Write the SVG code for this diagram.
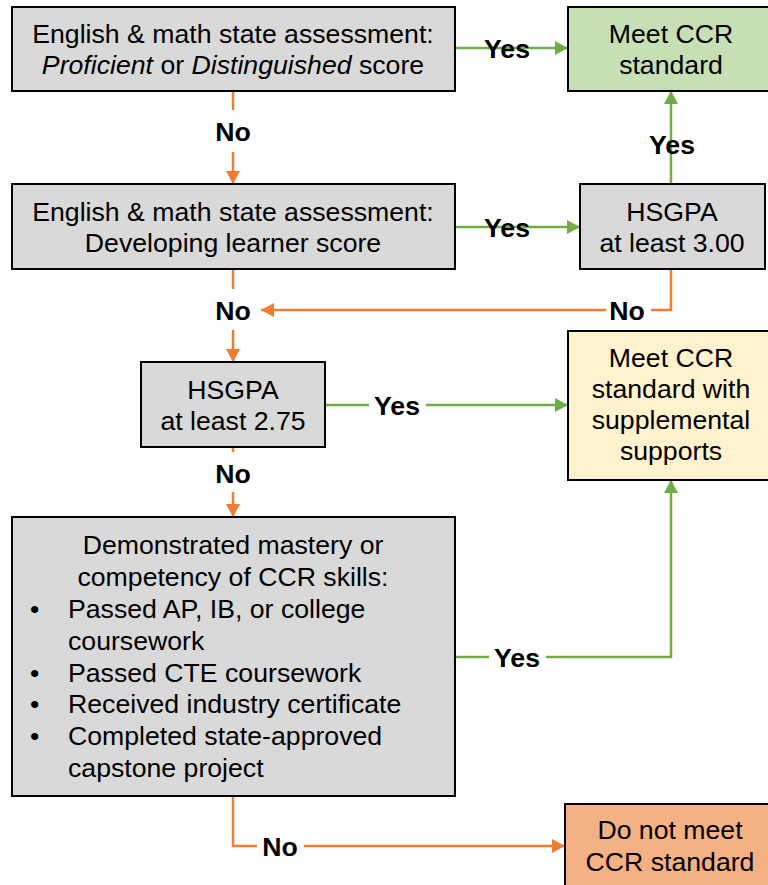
<svg xmlns="http://www.w3.org/2000/svg" width="768" height="885" viewBox="0 0 768 885">
<style>
.box{stroke:#000;stroke-width:2}
.g{fill:#d9d9d9}
.t{font-family:"Liberation Sans",Arial,sans-serif;font-size:26.67px;fill:#000}
.c{text-anchor:middle}
.lbl{font-family:"Liberation Sans",Arial,sans-serif;font-size:26.67px;font-weight:bold;fill:#000;text-anchor:middle}
.gl{stroke:#70ad47;stroke-width:2.5;fill:none}
.ol{stroke:#ed7d31;stroke-width:2.5;fill:none}
</style>
<defs>
<marker id="ag" markerUnits="userSpaceOnUse" markerWidth="13" markerHeight="14" viewBox="0 0 13 14" refX="13" refY="7" orient="auto"><path d="M0,0 L13,7 L0,14 z" fill="#70ad47"/></marker>
<marker id="ao" markerUnits="userSpaceOnUse" markerWidth="13" markerHeight="14" viewBox="0 0 13 14" refX="13" refY="7" orient="auto"><path d="M0,0 L13,7 L0,14 z" fill="#ed7d31"/></marker>
</defs>
<rect width="768" height="885" fill="#fff"/>
<g id="connectors">
<line class="gl" x1="455" y1="48" x2="568" y2="48" marker-end="url(#ag)"/>
<text class="lbl" x="507" y="58">Yes</text>
<line class="ol" x1="233" y1="91" x2="233" y2="110"/>
<text class="lbl" x="233" y="141">No</text>
<line class="ol" x1="233" y1="152" x2="233" y2="184" marker-end="url(#ao)"/>
<line class="gl" x1="455" y1="227" x2="580" y2="227" marker-end="url(#ag)"/>
<text class="lbl" x="507" y="237">Yes</text>
<line class="gl" x1="671" y1="184" x2="671" y2="91" marker-end="url(#ag)"/>
<text class="lbl" x="672" y="154">Yes</text>
<polyline class="ol" points="671,269 671,310 651,310"/>
<text class="lbl" x="627" y="320">No</text>
<line class="ol" x1="606" y1="310" x2="261" y2="310" marker-end="url(#ao)"/>
<line class="ol" x1="233" y1="269" x2="233" y2="289"/>
<text class="lbl" x="233" y="320">No</text>
<line class="ol" x1="233" y1="330" x2="233" y2="362" marker-end="url(#ao)"/>
<line class="gl" x1="325" y1="405" x2="369" y2="405"/>
<text class="lbl" x="397" y="415">Yes</text>
<line class="gl" x1="426" y1="405" x2="568" y2="405" marker-end="url(#ag)"/>
<line class="ol" x1="233" y1="447" x2="233" y2="452"/>
<text class="lbl" x="233" y="483">No</text>
<line class="ol" x1="233" y1="492" x2="233" y2="517" marker-end="url(#ao)"/>
<line class="gl" x1="455" y1="657" x2="489" y2="657"/>
<text class="lbl" x="517" y="667">Yes</text>
<polyline class="gl" points="546,657 671,657 671,480" marker-end="url(#ag)"/>
<polyline class="ol" points="233,796 233,846 257,846"/>
<text class="lbl" x="280" y="856">No</text>
<line class="ol" x1="304" y1="846" x2="565" y2="846" marker-end="url(#ao)"/>
</g>
<g id="n1">
<rect class="box g" x="12" y="7" width="443" height="84"/>
<text class="t c" x="233" y="43">English &amp; math state assessment:</text>
<text class="t c" x="233" y="74"><tspan font-style="italic">Proficient</tspan> or <tspan font-style="italic">Distinguished</tspan> score</text>
</g>
<g id="meet">
<rect class="box" fill="#c5e0b4" x="568" y="7" width="207" height="84"/>
<text class="t c" x="671" y="43">Meet CCR</text>
<text class="t c" x="671" y="74">standard</text>
</g>
<g id="n2">
<rect class="box g" x="12" y="184" width="443" height="85"/>
<text class="t c" x="233" y="221">English &amp; math state assessment:</text>
<text class="t c" x="233" y="252">Developing learner score</text>
</g>
<g id="gpa300">
<rect class="box g" x="580" y="184" width="185" height="85"/>
<text class="t c" x="672" y="221">HSGPA</text>
<text class="t c" x="672" y="252">at least 3.00</text>
</g>
<g id="gpa275">
<rect class="box g" x="141" y="362" width="184" height="85"/>
<text class="t c" x="233" y="399">HSGPA</text>
<text class="t c" x="233" y="430">at least 2.75</text>
</g>
<g id="supp">
<rect class="box" fill="#fff2cc" x="568" y="331" width="207" height="149"/>
<text class="t c" x="671" y="367">Meet CCR</text>
<text class="t c" x="671" y="398">standard with</text>
<text class="t c" x="671" y="429">supplemental</text>
<text class="t c" x="671" y="460">supports</text>
</g>
<g id="n4">
<rect class="box g" x="12" y="517" width="443" height="279"/>
<text class="t c" x="233" y="554">Demonstrated mastery or</text>
<text class="t c" x="233" y="586">competency of CCR skills:</text>
<text class="t" x="30" y="618">•</text>
<text class="t" x="68" y="618">Passed AP, IB, or college</text>
<text class="t" x="68" y="650">coursework</text>
<text class="t" x="30" y="682">•</text>
<text class="t" x="68" y="682">Passed CTE coursework</text>
<text class="t" x="30" y="713">•</text>
<text class="t" x="68" y="713">Received industry certificate</text>
<text class="t" x="30" y="745">•</text>
<text class="t" x="68" y="745">Completed state-approved</text>
<text class="t" x="68" y="777">capstone project</text>
</g>
<g id="notmeet">
<rect class="box" fill="#f4b183" x="565" y="804" width="210" height="90"/>
<text class="t c" x="670" y="839">Do not meet</text>
<text class="t c" x="670" y="871">CCR standard</text>
</g>
</svg>
